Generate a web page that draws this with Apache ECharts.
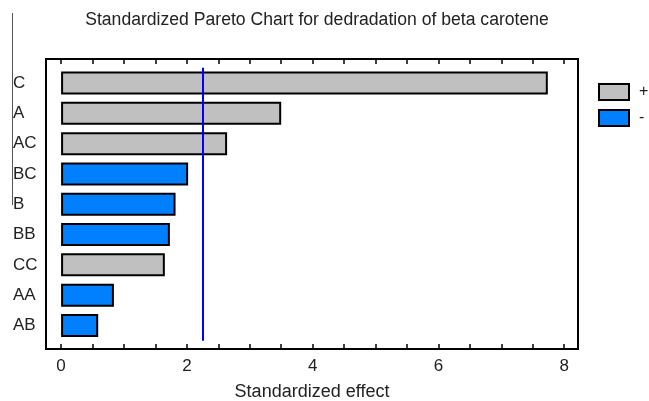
<!DOCTYPE html>
<html>
<head>
<meta charset="utf-8">
<script src="https://cdn.jsdelivr.net/npm/echarts@6/dist/echarts.min.js"></script>
<style>html,body{margin:0;padding:0;background:#fff}#c{width:649px;height:401px}</style>
</head>
<body>
<div id="c"></div>
<script>
var categories = ['C', 'A', 'AC', 'BC', 'B', 'BB', 'CC', 'AA', 'AB'];
var effects = [7.74, 3.50, 2.64, 2.02, 1.82, 1.73, 1.65, 0.84, 0.59];
var signs = ['+', '+', '+', '-', '-', '-', '+', '-', '-'];
var criticalValue = 2.26;
var xTickValues = [0, 0.5, 1, 1.5, 2, 2.5, 3, 3.5, 4, 4.5, 5, 5.5, 6, 6.5, 7, 7.5, 8];
var xLabelValues = [0, 2, 4, 6, 8];
var xMin = -0.24, xMax = 8.22;

var posData = effects.map(function (v, i) { return signs[i] === '+' ? v : '-'; });
var negData = effects.map(function (v, i) { return signs[i] === '-' ? v : '-'; });

var font = 'Liberation Sans, Arial, sans-serif';
var chart = echarts.init(document.getElementById('c'));
chart.setOption({
  animation: false,
  title: {
    text: 'Standardized Pareto Chart for dedradation of beta carotene',
    left: 312, top: 6, textAlign: 'center',
    textStyle: { fontFamily: font, fontSize: 17.6, fontWeight: 'normal', color: '#222' }
  },
  legend: {
    orient: 'vertical', left: 598, top: 83, padding: 0, itemWidth: 30, itemHeight: 16, itemGap: 8,
    icon: 'rect',
    textStyle: { fontFamily: font, fontSize: 16, color: '#222', padding: [0, 0, 0, 5] },
    data: ['+', '-']
  },
  graphic: [{
    type: 'line', shape: { x1: 12.5, y1: 13, x2: 12.5, y2: 205 },
    style: { stroke: '#555', lineWidth: 1 }
  }],
  grid: [
    { left: 46, right: 71, top: 59, bottom: 52, outerBoundsMode: 'none', containLabel: false, show: true, borderColor: '#000', borderWidth: 2, backgroundColor: 'transparent' },
    { left: 46, right: 71, top: 67.85, bottom: 60.35, outerBoundsMode: 'none', containLabel: false }
  ],
  xAxis: [
    {
      gridIndex: 0, type: 'value', min: xMin, max: xMax, position: 'bottom',
      axisLine: { show: false }, splitLine: { show: false },
      axisTick: { show: true, inside: true, length: 5, lineStyle: { color: '#000', width: 1.5 }, customValues: xTickValues },
      axisLabel: { fontFamily: font, fontSize: 17, color: '#222', margin: 9, customValues: xLabelValues },
      name: 'Standardized effect', nameLocation: 'middle', nameGap: 34,
      nameTextStyle: { fontFamily: font, fontSize: 18, color: '#222' }
    },
    {
      gridIndex: 0, type: 'value', min: xMin, max: xMax, position: 'top',
      axisLine: { show: false }, splitLine: { show: false },
      axisTick: { show: true, inside: true, length: 5, lineStyle: { color: '#000', width: 1.5 }, customValues: xTickValues },
      axisLabel: { show: false }
    },
    {
      gridIndex: 1, type: 'value', min: xMin, max: xMax, show: false, splitLine: { show: false }
    }
  ],
  yAxis: [
    { gridIndex: 0, type: 'value', show: false, splitLine: { show: false } },
    {
      gridIndex: 1, type: 'category', data: categories, inverse: true,
      axisLine: { show: false }, axisTick: { show: false },
      axisLabel: { align: 'left', margin: 33, fontFamily: font, fontSize: 17, color: '#222' }
    }
  ],
  series: [
    {
      name: '+', type: 'bar', xAxisIndex: 2, yAxisIndex: 1, stack: 'e', barWidth: 23,
      data: posData,
      itemStyle: { color: '#c0c0c0', borderColor: '#000', borderWidth: 2 },
      markLine: {
        silent: true, symbol: 'none', label: { show: false },
        lineStyle: { color: '#0000ff', width: 2, type: 'solid' },
        data: [{ xAxis: criticalValue }]
      }
    },
    {
      name: '-', type: 'bar', xAxisIndex: 2, yAxisIndex: 1, stack: 'e', barWidth: 23,
      data: negData,
      itemStyle: { color: '#0080ff', borderColor: '#000', borderWidth: 2 }
    }
  ]
});
</script>
</body>
</html>
